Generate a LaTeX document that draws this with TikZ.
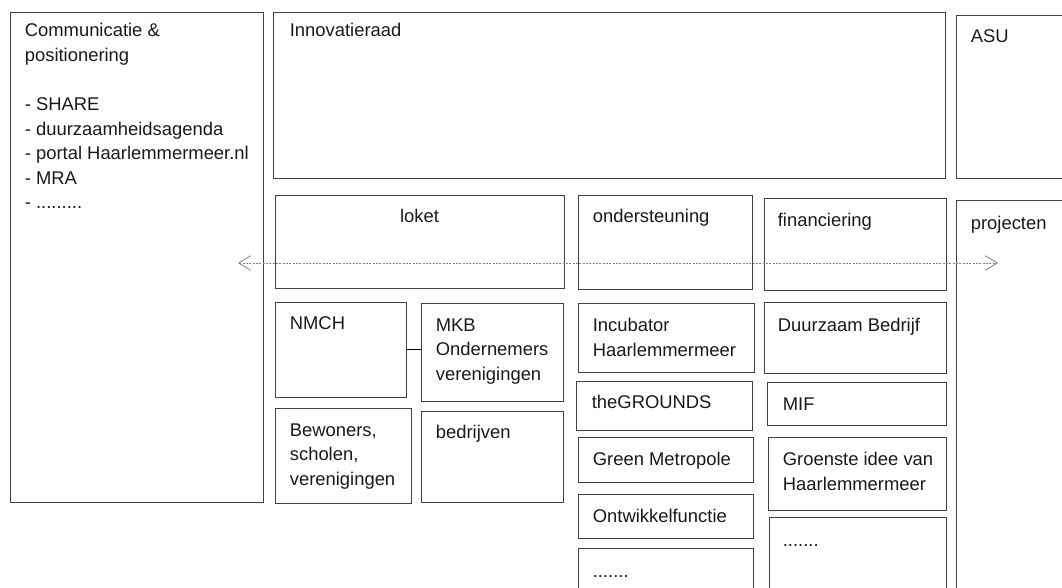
\documentclass[tikz,border=0pt]{standalone}
\usepackage{fontspec}
\setmainfont{Liberation Sans}
\usetikzlibrary{positioning,arrows.meta,fit}

\begin{document}
\begin{tikzpicture}[x=0.75pt, y=-0.75pt,
    vak/.style={draw=black!75, line width=0.6pt, inner sep=0pt},
    tekst/.style={anchor=north west, align=left, inner sep=0pt, yshift=10pt, text=black!90,
        font=\fontsize{13.8}{18.4}\selectfont, execute at begin node={\rule{0pt}{10pt}}},
    pijl/.style={draw=black!50, line width=0.6pt, dash pattern=on 1.5pt off 1pt,
        {Straight Barb[length=9pt, width=11pt]}-{Straight Barb[length=9pt, width=11pt]}}]

    \useasboundingbox (0,0) rectangle (1062,587);
    \clip (0,0) rectangle (1062,587);

    % bovenste rij
    \node (comm) [vak, fit={(10,12) (263,502)}] {};
    \node (comm-t) [tekst] at ([shift={(15,25)}]comm.north west) {Communicatie \&\\ positionering\\[18.4pt] - SHARE\\ - duurzaamheidsagenda\\ - portal Haarlemmermeer.nl\\ - MRA\\ - .........};
    \node (raad) [vak, fit={(273,12) (945,178)}] {};
    \node (raad-t) [tekst] at ([shift={(17,25)}]raad.north west) {Innovatieraad};
    \node (asu) [vak, fit={(956,15) (1080,178)}] {};
    \node (asu-t) [tekst] at ([shift={(15,28)}]asu.north west) {ASU};

    % tweede rij
    \node (loket) [vak, fit={(275,195) (564,288)}] {};
    \node (loket-t) [tekst, anchor=north] at ([shift={(0,28)}]loket.north) {loket};
    \node (onderst) [vak, fit={(578,195) (752,289)}] {};
    \node (onderst-t) [tekst] at ([shift={(15,28)}]onderst.north west) {ondersteuning};
    \node (fin) [vak, fit={(764,198) (946,290)}] {};
    \node (fin-t) [tekst] at ([shift={(14,29)}]fin.north west) {financiering};
    \node (proj) [vak, fit={(956,200) (1080,600)}] {};
    \node (proj-t) [tekst] at ([shift={(15,30)}]proj.north west) {projecten};

    % loket
    \node (nmch) [vak, fit={(275,302) (406,397)}] {};
    \node (nmch-t) [tekst] at ([shift={(15,28)}]nmch.north west) {NMCH};
    \node (mkb) [vak, fit={(421,303) (563,401)}] {};
    \node (mkb-t) [tekst] at ([shift={(15,29)}]mkb.north west) {MKB\\ Ondernemers\\ verenigingen};
    \node (bewoners) [vak, fit={(275,408) (411,503)}] {};
    \node (bewoners-t) [tekst] at ([shift={(15,29)}]bewoners.north west) {Bewoners,\\ scholen,\\ verenigingen};
    \node (bedrijven) [vak, fit={(421,411) (563,502)}] {};
    \node (bedrijven-t) [tekst] at ([shift={(15,28)}]bedrijven.north west) {bedrijven};

    % ondersteuning
    \node (incubator) [vak, fit={(578,303) (754,372)}] {};
    \node (incubator-t) [tekst] at ([shift={(15,29)}]incubator.north west) {Incubator\\ Haarlemmermeer};
    \node (grounds) [vak, fit={(576,381) (752,430)}] {};
    \node (grounds-t) [tekst] at ([shift={(16,28)}]grounds.north west) {theGROUNDS};
    \node (metropole) [vak, fit={(578,437) (753,482)}] {};
    \node (metropole-t) [tekst] at ([shift={(15,29)}]metropole.north west) {Green Metropole};
    \node (ontwikkel) [vak, fit={(578,494) (753,538)}] {};
    \node (ontwikkel-t) [tekst] at ([shift={(15,29)}]ontwikkel.north west) {Ontwikkelfunctie};
    \node (onderst-rest) [vak, fit={(578,548) (753,600)}] {};
    \node (onderst-rest-t) [tekst] at ([shift={(15,30)}]onderst-rest.north west) {.......};

    % financiering
    \node (duurzaam) [vak, fit={(764,302) (946,373)}] {};
    \node (duurzaam-t) [tekst] at ([shift={(14,30)}]duurzaam.north west) {Duurzaam Bedrijf};
    \node (mif) [vak, fit={(767,382) (946,425)}] {};
    \node (mif-t) [tekst] at ([shift={(16,29)}]mif.north west) {MIF};
    \node (groenste) [vak, fit={(768,437) (946,510)}] {};
    \node (groenste-t) [tekst] at ([shift={(15,29)}]groenste.north west) {Groenste idee van\\ Haarlemmermeer};
    \node (fin-rest) [vak, fit={(769,517) (946,600)}] {};
    \node (fin-rest-t) [tekst] at ([shift={(14,30)}]fin-rest.north west) {.......};

    % verbindingen
    \draw[black, line width=1pt] (nmch.east) -- (nmch.east -| mkb.west);
    \coordinate (pijl-links) at (238,263);
    \coordinate (pijl-rechts) at (998,263);
    \draw[pijl] (pijl-links) -- (pijl-rechts);
\end{tikzpicture}
\end{document}
